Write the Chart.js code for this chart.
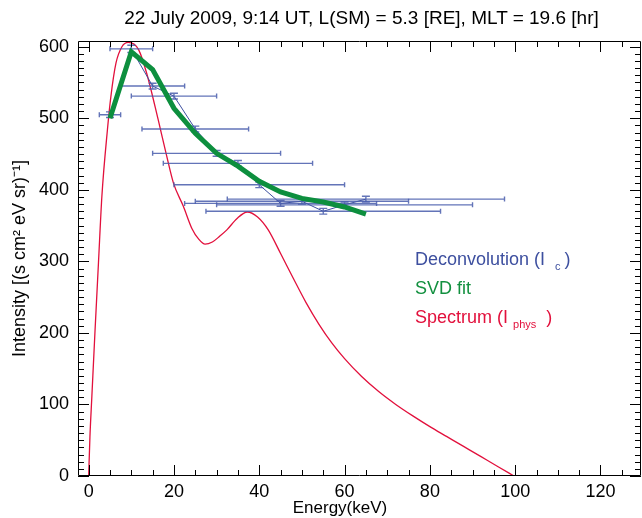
<!DOCTYPE html>
<html><head><meta charset="utf-8">
<script src="https://cdn.jsdelivr.net/npm/chart.js@4.4.1/dist/chart.umd.min.js"></script>
<style>
html,body{margin:0;padding:0;background:#fff;}
#wrap{position:relative;width:642px;height:518px;font-family:"Liberation Sans",Arial,sans-serif;}
#c{position:absolute;left:0;top:0;}
.t{position:absolute;white-space:nowrap;line-height:1;}
.sub{position:relative;top:5px;font-size:11px;}
</style></head>
<body>
<div id="wrap">
<canvas id="c" width="642" height="518"></canvas>
<div class="t" id="title" style="left:78px;width:567px;text-align:center;top:8px;font-size:19px;color:#000;">22 July 2009, 9:14 UT, L(SM) = 5.3 [RE], MLT = 19.6 [hr]</div>
<div class="t" style="left:240px;width:200px;text-align:center;top:499px;font-size:17px;color:#000;">Energy(keV)</div>
<div class="t" style="left:415px;top:250px;font-size:18px;color:#3d4f9f;">Deconvolution (I<span class="sub" style="margin-left:10px;">c</span><span style="margin-left:4px;">)</span></div>
<div class="t" style="left:415px;top:279px;font-size:18px;color:#12903f;">SVD fit</div>
<div class="t" style="left:415px;top:308px;font-size:18px;color:#e2103c;">Spectrum (I<span class="sub" style="margin-left:5px;">phys</span><span style="margin-left:10px;">)</span></div>
</div>
<script>
// ---- data ----
const energy     = [5, 10, 15, 20, 25, 30, 35, 40, 45, 50, 55, 60, 65];
const deconv     = [505, 597, 545, 531, 485, 451, 437, 407, 381, 384, 370, 379, 387];
const deconvErr  = [4, 5, 4, 4, 4, 4, 4, 4, 4, 4, 4, 4, 4];
const energyLow  = [2.5, 5, 7.5, 10, 12.5, 15, 17.5, 20, 22.5, 25, 27.5, 30, 32.5];
const energyHigh = [7.5, 15, 22.5, 30, 37.5, 45, 52.5, 60, 67.5, 75, 82.5, 90, 97.5];
const svdFit     = [500, 593, 568, 514, 479, 451, 433, 412, 397, 388, 383, 376, 366];
const specEnergy = [0, 0.3, 0.75, 1.5, 2.3, 3.1, 4.4, 5.2, 6.4, 7.8, 9.3, 11.7, 13.6, 16.3, 18.3, 19.9, 22.2, 24.2, 25.8, 27.3, 29, 30.7, 32.4, 34.8, 37.2, 39.6, 42.1, 45, 48, 51, 54, 57, 60, 64, 68, 72, 76, 80, 84, 88, 92, 96, 99.7];
const specInt    = [0, 55, 111, 204, 298, 391, 484, 530, 577, 600, 606, 596, 563, 498, 447, 409, 377, 346, 331, 324, 327, 335, 344, 360, 369, 362, 344, 311, 276, 242, 212, 186, 164, 139, 118, 100, 84, 69, 55, 41, 27, 13, 0];
const xTickLabels = [0, 20, 40, 60, 80, 100, 120];
const yTickLabels = [0, 100, 200, 300, 400, 500, 600];

const FONT = '"Liberation Sans", Arial, sans-serif';

const errPlugin = {
  id: 'errbars',
  afterDatasetDraw(chart, args) {
    if (args.index !== 1) return;
    const {ctx, scales: {x, y}} = chart;
    ctx.save();
    ctx.strokeStyle = 'rgba(72,92,172,0.85)';
    ctx.lineWidth = 1.4;
    for (let i = 0; i < energy.length; i++) {
      const py = y.getPixelForValue(deconv[i]);
      const x1 = x.getPixelForValue(energyLow[i]);
      const x2 = x.getPixelForValue(energyHigh[i]);
      const px = x.getPixelForValue(energy[i]);
      const y1 = y.getPixelForValue(deconv[i] - deconvErr[i]);
      const y2 = y.getPixelForValue(deconv[i] + deconvErr[i]);
      ctx.beginPath();
      ctx.moveTo(x1, py); ctx.lineTo(x2, py);
      ctx.moveTo(x1, py - 2.5); ctx.lineTo(x1, py + 2.5);
      ctx.moveTo(x2, py - 2.5); ctx.lineTo(x2, py + 2.5);
      ctx.moveTo(px, y1); ctx.lineTo(px, y2);
      ctx.moveTo(px - 4, y1); ctx.lineTo(px + 4, y1);
      ctx.moveTo(px - 4, y2); ctx.lineTo(px + 4, y2);
      ctx.stroke();
    }
    ctx.restore();
  }
};

const framePlugin = {
  id: 'frame',
  afterDraw(chart) {
    const {ctx, chartArea: a, scales: {x, y}} = chart;
    ctx.save();
    ctx.strokeStyle = '#000';
    ctx.lineWidth = 1;
    ctx.beginPath();
    ctx.rect(a.left + 0.5, a.top + 0.5, a.right - a.left - 1, a.bottom - a.top - 1);
    for (let v = 0; v <= 125; v += 5) {
      const p = Math.round(x.getPixelForValue(v)) + 0.5;
      if (p > a.right) break;
      const len = v % 20 === 0 ? 11 : 6;
      ctx.moveTo(p, a.bottom); ctx.lineTo(p, a.bottom - len);
      ctx.moveTo(p, a.top); ctx.lineTo(p, a.top + len);
    }
    for (let v = 0; v <= 600; v += 10) {
      const p = Math.round(y.getPixelForValue(v)) + 0.5;
      const len = v % 100 === 0 ? 11 : 6;
      ctx.moveTo(a.left, p); ctx.lineTo(a.left + len, p);
      ctx.moveTo(a.right, p); ctx.lineTo(a.right - len, p);
    }
    ctx.stroke();
    ctx.restore();
  }
};

new Chart(document.getElementById('c'), {
  type: 'line',
  data: {
    datasets: [
      {label: 'SVD fit', data: energy.map((e, i) => ({x: e, y: svdFit[i]})),
       borderColor: '#0d8f3e', borderWidth: 5, pointRadius: 0, tension: 0, order: 0},
      {label: 'Deconvolution (Ic)', data: energy.map((e, i) => ({x: e, y: deconv[i]})),
       borderColor: '#3c4f9f', borderWidth: 1, pointRadius: 0, tension: 0, order: 1},
      {label: 'Spectrum (Iphys)', data: specEnergy.map((e, i) => ({x: e, y: specInt[i]})),
       borderColor: '#e2103c', borderWidth: 1.3, pointRadius: 0, cubicInterpolationMode: 'monotone', order: 2}
    ]
  },
  options: {
    responsive: false, animation: false, devicePixelRatio: 1,
    layout: {padding: {top: 41, right: 1, left: 0, bottom: 0}},
    plugins: {legend: {display: false}, tooltip: {enabled: false}, title: {display: false}},
    scales: {
      x: {
        type: 'linear', min: -2.5, max: 129.5,
        afterBuildTicks: s => { s.ticks = xTickLabels.map(v => ({value: v})); },
        afterFit: s => { s.height = 42; },
        grid: {display: false, drawTicks: false}, border: {display: false},
        ticks: {font: {family: FONT, size: 18}, color: '#000', padding: 5, maxRotation: 0, autoSkip: false}
      },
      y: {
        type: 'linear', min: 0, max: 608,
        afterBuildTicks: s => { s.ticks = yTickLabels.map(v => ({value: v})); },
        afterFit: s => { s.width = 78; },
        grid: {display: false, drawTicks: false}, border: {display: false},
        ticks: {font: {family: FONT, size: 18}, color: '#000', padding: 9, autoSkip: false},
        title: {display: true, text: 'Intensity [(s cm\u00B2 eV sr)\u207B\u00B9]', color: '#000',
                font: {family: FONT, size: 18}, padding: {top: 9, bottom: 0}}
      }
    }
  },
  plugins: [errPlugin, framePlugin]
});
</script>
</body></html>
